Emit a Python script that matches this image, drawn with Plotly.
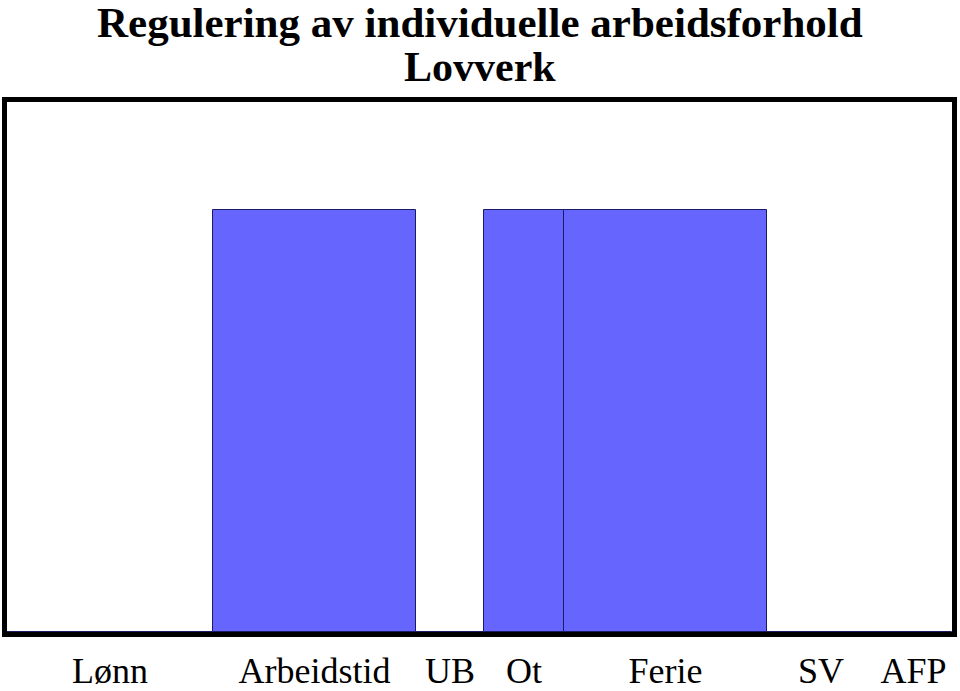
import plotly.graph_objects as go

categories = ["Lønn", "Arbeidstid", "UB", "Ot", "Ferie", "SV", "AFP"]
values = [0, 1, 0, 1, 1, 0, 0]
category_widths = [206, 203, 68, 80, 203, 108, 77]

starts = []
acc = 0
for w in category_widths:
    starts.append(acc)
    acc += w
centers = [s + w / 2 for s, w in zip(starts, category_widths)]
total = acc

FONT = "Liberation Serif, Times New Roman, serif"

fig = go.Figure(
    go.Bar(
        x=centers,
        y=values,
        width=category_widths,
        marker=dict(color="#6666FF", line=dict(color="#1a1a66", width=1)),
        hoverinfo="skip",
    )
)

fig.update_layout(
    width=960,
    height=691,
    margin=dict(l=7, r=8, t=102, b=59, autoexpand=False),
    paper_bgcolor="white",
    plot_bgcolor="white",
    showlegend=False,
    bargap=0,
    font=dict(family=FONT, color="black"),
    annotations=[
        dict(
            text="<b>Regulering av individuelle arbeidsforhold</b>",
            x=0.5, xref="paper", y=1, yref="paper",
            xanchor="center", yanchor="middle", yshift=80,
            showarrow=False, font=dict(family=FONT, size=43, color="black"),
        ),
        dict(
            text="<b>Lovverk</b>",
            x=0.5, xref="paper", y=1, yref="paper",
            xanchor="center", yanchor="middle", yshift=35,
            showarrow=False, font=dict(family=FONT, size=42, color="black"),
        ),
    ],
)

fig.update_xaxes(
    range=[0, total],
    tickvals=centers,
    ticktext=categories,
    tickfont=dict(family=FONT, size=36, color="black"),
    ticks="",
    ticklabelstandoff=3,
    automargin=False,
    showgrid=False,
    zeroline=False,
    showline=True,
    linewidth=5,
    linecolor="black",
    mirror=True,
    fixedrange=True,
)
fig.update_yaxes(
    range=[0, 1.256],
    showticklabels=False,
    ticks="",
    automargin=False,
    showgrid=False,
    zeroline=False,
    showline=True,
    linewidth=5,
    linecolor="black",
    mirror=True,
    fixedrange=True,
)

fig.write_html("out.html", config={"displayModeBar": False})
